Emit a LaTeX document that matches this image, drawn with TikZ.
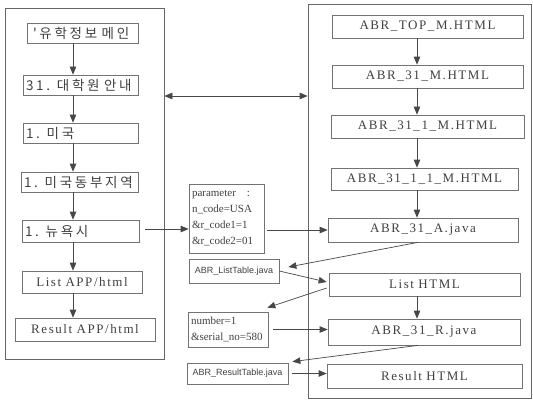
\documentclass[tikz,border=0pt]{standalone}
\usepackage{fontspec}
\setmainfont{Liberation Serif}
\newfontfamily\krfont{Noto Sans CJK KR}[LetterSpace=20]
\newfontfamily\boxfont{Liberation Serif}[LetterSpace=12]
\newfontfamily\smallsans{Liberation Sans}
\usetikzlibrary{arrows.meta,calc}
\begin{document}
\begin{tikzpicture}[x=1pt,y=-1pt,
  frame/.style={draw=black!60, line width=0.7pt, inner sep=0pt},
  box/.style={draw=black!55, line width=0.7pt, inner ysep=0pt, inner xsep=3pt, text=black!75},
  kbox/.style={box, font=\krfont\fontsize{13.5}{15}\selectfont, align=left},
  lbox/.style={box, font=\boxfont\fontsize{13}{15}\selectfont, align=center},
  rbox/.style={box, font=\boxfont\fontsize{13}{15}\selectfont, align=center},
  mbox/.style={box, font=\fontsize{11}{16}\selectfont, align=left},
  jbox/.style={box, font=\smallsans\fontsize{9}{10}\selectfont, align=center},
  arr/.style={-{Triangle[length=8pt,width=6.5pt]}, draw=black!72, line width=0.7pt},
  dbl/.style={{Triangle[length=8pt,width=6.5pt]}-{Triangle[length=8pt,width=6.5pt]}, draw=black!72, line width=0.7pt}
]
\useasboundingbox (0,0) rectangle (533,400);

% frames
\node[frame, minimum width=159pt, minimum height=351pt] (LF) at (84.5,183.5) {};
\node[frame, minimum width=223pt, minimum height=394pt] (RF) at (419.5,201) {};

% left column
\node[kbox, text width=105pt, minimum height=20pt] (L1) at (82.5,33) {\hspace{3pt}'유학정보 메인};
\node[kbox, text width=109pt, minimum height=20pt] (L2) at (80.5,85) {31. 대학원 안내};
\node[kbox, text width=109pt, minimum height=20pt] (L3) at (80.5,133) {1. 미국};
\node[kbox, text width=111pt, minimum height=20pt] (L4) at (79.5,182) {1. 미국동부지역};
\node[kbox, text width=111pt, minimum height=22pt] (L5) at (80.5,231) {1. 뉴욕시};
\node[lbox, text width=114pt, minimum height=22pt] (L6) at (82,282) {List APP/html};
\node[lbox, text width=134pt, minimum height=23pt] (L7) at (85,329.5) {Result APP/html};

% right column
\node[rbox, text width=185pt, minimum height=23pt] (R1) at (427.5,26.5) {ABR\_TOP\_M.HTML};
\node[rbox, text width=185pt, minimum height=23pt] (R2) at (427.5,76.5) {ABR\_31\_M.HTML};
\node[rbox, text width=187pt, minimum height=23pt] (R3) at (427.5,126.5) {ABR\_31\_1\_M.HTML};
\node[rbox, text width=181pt, minimum height=22pt] (R4) at (424.5,179) {ABR\_31\_1\_1\_M.HTML};
\node[rbox, text width=184pt, minimum height=24pt] (R5) at (423,230) {ABR\_31\_A.java};
\node[rbox, text width=185pt, minimum height=23pt] (R6) at (424.5,284.5) {List HTML};
\node[rbox, text width=186pt, minimum height=26pt] (R7) at (424,332) {ABR\_31\_R.java};
\node[rbox, text width=189pt, minimum height=24pt] (R8) at (424.5,376) {Result HTML};

% middle boxes
\node[mbox, text width=69pt, minimum height=69pt] (P) at (226.5,218.5)
  {parameter\ \ \ :\\n\_code=USA\\\&r\_code1=1\\\&r\_code2=01};
\node[jbox, text width=84pt, minimum height=24pt] (LT) at (234,271) {ABR\_ListTable.java};
\node[mbox, text width=74pt, minimum height=35pt] (N) at (228,329.5)
  {number=1\\\&serial\_no=580};
\node[jbox, text width=95pt, minimum height=21pt] (RT) at (237.5,373.5) {ABR\_ResultTable.java};

% helper coordinates
\coordinate (lx) at (73,0);
\coordinate (rx) at (417,0);
\coordinate (dy) at (0,96);
\coordinate (ya) at (0,229);

% left arrows
\draw[arr] (L1.south -| lx) -- (L2.north -| lx);
\draw[arr] (L2.south -| lx) -- (L3.north -| lx);
\draw[arr] (L3.south -| lx) -- (L4.north -| lx);
\draw[arr] (L4.south -| lx) -- (L5.north -| lx);
\draw[arr] (L5.south -| lx) -- (L6.north -| lx);
\draw[arr] (L6.south -| lx) -- (L7.north -| lx);

% right arrows
\draw[arr] (R1.south -| rx) -- (R2.north -| rx);
\draw[arr] (R2.south -| rx) -- (R3.north -| rx);
\draw[arr] (R3.south -| rx) -- (R4.north -| rx);
\draw[arr] (R4.south -| rx) -- (R5.north -| rx);
\draw[arr] (R6.south -| rx) -- (R7.north -| rx);

% double arrow between frames
\draw[dbl] (LF.east |- dy) -- (RF.west |- dy);

% cross arrows
\draw[arr, shorten <=6pt] (L5.east |- ya) -- (P.west |- ya);
\draw[arr, shorten <=3pt] (P.east |- R5.west) -- (R5.west);
\draw[arr] ([xshift=-5pt]R5.south) -- ([shift={(9pt,4pt)}]LT.east);
\draw[arr] (LT.east) -- ([shift={(-2pt,2.5pt)}]R6.west);
\draw[arr] ([shift={(-2pt,-3.5pt)}]R6.west) -- ([shift={(-1pt,4pt)}]N.north east);
\draw[arr, shorten <=5pt] (N.east) -- (N.east -| R7.west);
\draw[arr] ([xshift=-6pt]R7.south) -- ([shift={(4pt,1pt)}]RT.north east);
\draw[arr, shorten <=4pt] (RT.east) -- (RT.east -| R8.west);
\end{tikzpicture}
\end{document}
